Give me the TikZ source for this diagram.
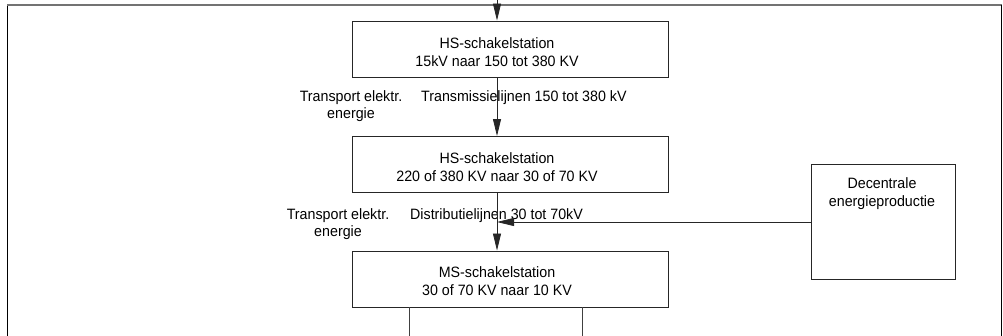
\documentclass[tikz,border=0pt]{standalone}
\usepackage{fontspec}
\setmainfont{Liberation Sans}[FakeStretch=0.95]
\usetikzlibrary{arrows.meta}
\begin{document}
\begin{tikzpicture}[x=1pt,y=-1pt,
  station/.style={draw=black!85, line width=0.9pt, minimum width=316pt, minimum height=56pt, inner sep=0pt},
  sidebox/.style={draw=black!85, line width=0.9pt, minimum width=144pt, minimum height=115pt, inner sep=0pt},
  boxtext/.style={font=\fontsize{15}{18}\selectfont, align=center, inner sep=0pt},
  lbl/.style={font=\fontsize{15}{17}\selectfont, align=center, inner sep=0pt},
  flow/.style={draw=black!85, line width=0.8pt, -{Triangle[length=17pt,width=8pt]}},
  plain/.style={draw=black!75, line width=0.8pt},
]
\useasboundingbox (0,0) rectangle (1003,336);
% frame
\draw[black, line width=1pt] (7,340) -- (7,5);
\draw[black!55, line width=1.6pt] (7,5) -- (1001.5,5);
\draw[black, line width=1pt] (1001.5,5) -- (1001.5,340);
% boxes
\node[station] (b1) at (510,49) {};
\node[station] (b2) at (510,164.5) {};
\node[station] (b3) at (510,279) {};
\node[sidebox] (dec) at (883,221.5) {};
% box texts
\node[boxtext] (t1) at (497,52) {HS-schakelstation\\15kV naar 150 tot 380 KV};
\node[boxtext] (t2) at (497,167) {HS-schakelstation\\220 of 380 KV naar 30 of 70 KV};
\node[boxtext] (t3) at (497,281) {MS-schakelstation\\30 of 70 KV naar 10 KV};
\node[boxtext] (dt) at (882,193.5) {Decentrale\\energieproductie};
% labels
\node[lbl] (l1) at (351,106.5) {Transport elektr.\\energie};
\node[lbl] (l2) at (338,224) {Transport elektr.\\energie};
\node[lbl, anchor=west] (m1) at (421,98) {Transmissielijnen 150 tot 380 kV};
\node[lbl, anchor=west] (m2) at (410,216) {Distributielijnen 30 tot 70kV};
% connectors
\coordinate (in) at (497,0);
\draw[flow] (in) -- (b1.north -| in);
\draw[flow] (b1.south -| t1) -- (b2.north -| t1);
\draw[flow] (b2.south -| t2) -- (b3.north -| t2);
\coordinate (j) at (497,222);
\draw[flow] (dec.west |- j) -- (j);
\coordinate (o1) at (409,337);
\coordinate (o2) at (582,337);
\draw[plain] (b3.south -| o1) -- (o1);
\draw[plain] (b3.south -| o2) -- (o2);
\end{tikzpicture}
\end{document}
